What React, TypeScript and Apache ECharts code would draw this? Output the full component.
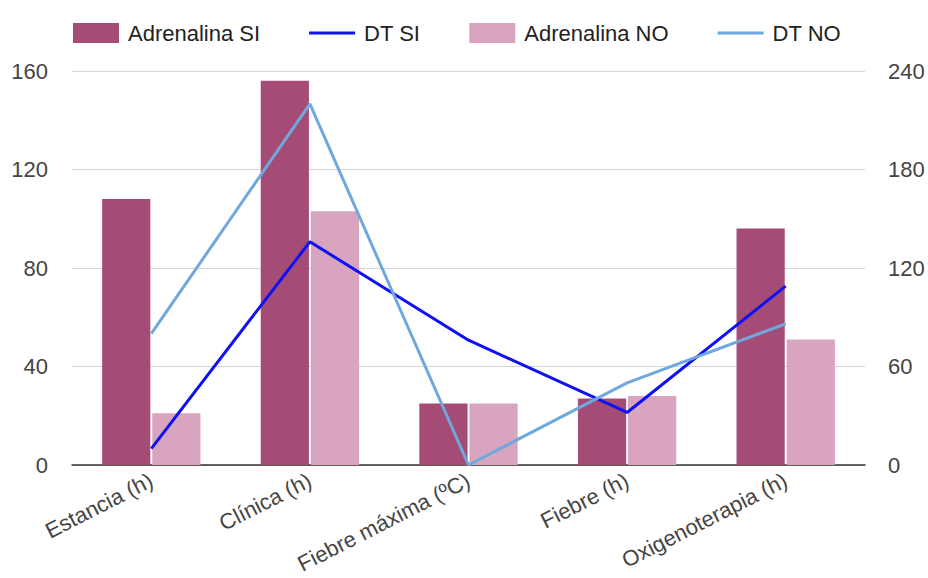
import React, { useEffect, useRef } from "react";
import * as echarts from "echarts";

const categories = ["Estancia (h)", "Clínica (h)", "Fiebre máxima (ºC)", "Fiebre (h)", "Oxigenoterapia (h)"];
const adrenalinaSI = [108, 156, 25, 27, 96];
const adrenalinaNO = [21, 103, 25, 28, 51];
const dtSI = [10, 136, 76, 32, 109];
const dtNO = [80, 220, 0, 50, 86];
const leftTicks = [0, 160, 40];
const rightTicks = [0, 240, 60];

const FONT = "'Liberation Sans', Arial, sans-serif";
const LINE_ICON = "path://M0,0H46V3H0Z";

export default function App() {
  const ref = useRef<HTMLDivElement>(null);
  useEffect(() => {
    if (!ref.current) return;
    const chart = echarts.init(ref.current, undefined, { renderer: "svg" });
    chart.setOption({
      animation: false,
      textStyle: { fontFamily: FONT },
      legend: {
        left: 68,
        top: 17,
        itemWidth: 46,
        itemHeight: 20,
        itemGap: 49,
        textStyle: { fontSize: 22, color: "#222", fontFamily: FONT, padding: [0, 0, 0, 4] },
        data: [
          { name: "Adrenalina SI", icon: "rect" },
          { name: "DT SI", icon: LINE_ICON },
          { name: "Adrenalina NO", icon: "rect" },
          { name: "DT NO", icon: LINE_ICON },
        ],
      },
      grid: { left: 72, right: 63, top: 71, bottom: 113, containLabel: false, outerBoundsMode: "none" },
      xAxis: {
        type: "category",
        data: categories,
        axisLine: { lineStyle: { color: "#333", width: 1.5 } },
        axisTick: { show: false },
        axisLabel: {
          rotate: 27,
          interval: 0,
          fontSize: 22,
          color: "#444",
          margin: 14,
          fontFamily: FONT,
        },
      },
      yAxis: [
        {
          type: "value",
          min: leftTicks[0],
          max: leftTicks[1],
          interval: leftTicks[2],
          axisLine: { show: false },
          axisTick: { show: false },
          axisLabel: { fontSize: 22, color: "#444", margin: 24, fontFamily: FONT },
          splitLine: { lineStyle: { color: "#d6d6d6", width: 1 } },
        },
        {
          type: "value",
          min: rightTicks[0],
          max: rightTicks[1],
          interval: rightTicks[2],
          axisLine: { show: false },
          axisTick: { show: false },
          axisLabel: { fontSize: 22, color: "#444", margin: 23, fontFamily: FONT },
          splitLine: { show: false },
        },
      ],
      series: [
        {
          name: "Adrenalina SI",
          type: "bar",
          data: adrenalinaSI,
          yAxisIndex: 0,
          barCategoryGap: "38%",
          barGap: "4%",
          itemStyle: { color: "#a54c76" },
        },
        {
          name: "DT SI",
          type: "line",
          data: dtSI,
          yAxisIndex: 1,
          symbol: "none",
          showSymbol: false,
          lineStyle: { color: "#1010f5", width: 3 },
          itemStyle: { color: "#1010f5" },
          z: 5,
        },
        {
          name: "Adrenalina NO",
          type: "bar",
          data: adrenalinaNO,
          yAxisIndex: 0,
          barCategoryGap: "38%",
          barGap: "4%",
          itemStyle: { color: "#d8a4bf" },
        },
        {
          name: "DT NO",
          type: "line",
          data: dtNO,
          yAxisIndex: 1,
          symbol: "none",
          showSymbol: false,
          lineStyle: { color: "#6fa8dc", width: 3 },
          itemStyle: { color: "#6fa8dc" },
          z: 5,
        },
      ],
    });
    return () => chart.dispose();
  }, []);
  return <div ref={ref} style={{ width: 928, height: 578, position: "absolute", left: 0, top: 0 }} />;
}
